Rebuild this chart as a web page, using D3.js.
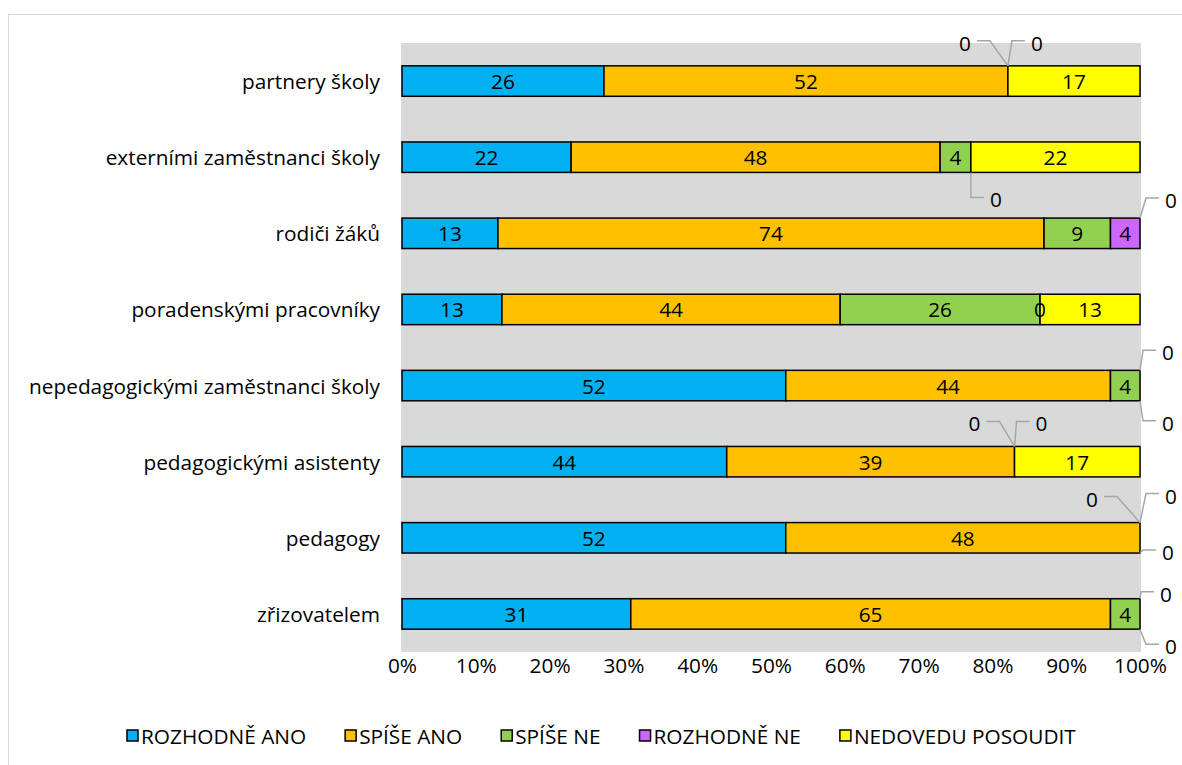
<!DOCTYPE html>
<html>
<head>
<meta charset="utf-8">
<script src="https://cdn.jsdelivr.net/npm/d3@7"></script>
<style>
  body { margin: 0; background: #fff; }
  svg { display: block; font-family: "Open Sans", Lato, sans-serif; }
</style>
</head>
<body>
<svg id="chart" width="1182" height="765"></svg>
<script>
  // categories, top to bottom
  const categories = [
    'partnery školy',
    'externími zaměstnanci školy',
    'rodiči žáků',
    'poradenskými pracovníky',
    'nepedagogickými zaměstnanci školy',
    'pedagogickými asistenty',
    'pedagogy',
    'zřizovatelem'
  ];

  const series = ['ROZHODNĚ ANO', 'SPÍŠE ANO', 'SPÍŠE NE', 'ROZHODNĚ NE', 'NEDOVEDU POSOUDIT'];
  const colors = ['#00B0F0', '#FFC000', '#92D050', '#CC66FF', '#FFFF00'];

  // values per series, in category order
  const rozhodneAno  = [26, 22, 13, 13, 52, 44, 52, 31];
  const spiseAno     = [52, 48, 74, 44, 44, 39, 48, 65];
  const spiseNe      = [ 0,  4,  9, 26,  4,  0,  0,  4];
  const rozhodneNe   = [ 0,  0,  4,  0,  0,  0,  0,  0];
  const nedovedu     = [17, 22,  0, 13,  0, 17,  0,  0];

  const tickLabels = ['0%', '10%', '20%', '30%', '40%', '50%', '60%', '70%', '80%', '90%', '100%'];

  // where the zero labels are pushed out to (offset from the bar edge), with leader lines
  const zeroLabelPlacement = [
    { cat: 0, s: 2, side: 'top',    dx: -43, dy: -23 },
    { cat: 0, s: 3, side: 'top',    dx:  29, dy: -23 },
    { cat: 1, s: 3, side: 'bottom', dx:  25, dy:  27 },
    { cat: 2, s: 4, side: 'top',    dx:  31, dy: -18 },
    { cat: 4, s: 3, side: 'top',    dx:  28, dy: -18 },
    { cat: 4, s: 4, side: 'bottom', dx:  28, dy:  22 },
    { cat: 5, s: 2, side: 'top',    dx: -40, dy: -23 },
    { cat: 5, s: 3, side: 'top',    dx:  27, dy: -23 },
    { cat: 6, s: 2, side: 'top',    dx: -48, dy: -24 },
    { cat: 6, s: 3, side: 'top',    dx:  31, dy: -27 },
    { cat: 6, s: 4, side: 'bottom', dx:  28, dy:  -1 },
    { cat: 7, s: 3, side: 'top',    dx:  26, dy:  -5 },
    { cat: 7, s: 4, side: 'bottom', dx:  31, dy:  17 }
  ];

  const values = [rozhodneAno, spiseAno, spiseNe, rozhodneNe, nedovedu];

  let table = categories.map(function (c, i) {
    let row = { cat: c };
    series.forEach(function (s, j) { row[s] = values[j][i]; });
    return row;
  });

  const stacked = d3.stack().keys(series).offset(d3.stackOffsetExpand)(table);

  const svg = d3.select('#chart');
  const FONT = 20.8;

  // chart frame
  svg.append('rect')
    .attr('x', 8.5).attr('y', 14.5)
    .attr('width', 1300).attr('height', 900)
    .attr('fill', 'none').attr('stroke', '#D9D9D9').attr('stroke-width', 1);

  const x = d3.scaleLinear().domain([0, 1]).range([402, 1140]);
  const y = d3.scaleBand().domain(categories).range([43, 652]).paddingInner(0.6).paddingOuter(0.3);

  // plot area
  svg.append('rect')
    .attr('x', x(0) - 1).attr('y', 43)
    .attr('width', x(1) - x(0) + 2).attr('height', 609)
    .attr('fill', '#D9D9D9');

  // bars
  let layer = svg.selectAll('g.layer')
    .data(stacked)
    .join('g')
    .attr('class', 'layer')
    .attr('fill', function (d, i) { return colors[i]; });

  layer.selectAll('rect')
    .data(function (d) { return d; })
    .join('rect')
    .attr('x', function (d) { return x(d[0]); })
    .attr('y', function (d) { return y(d.data.cat); })
    .attr('width', function (d) { return x(d[1]) - x(d[0]); })
    .attr('height', y.bandwidth())
    .attr('stroke', '#000')
    .attr('stroke-width', 1.5);

  // data labels
  let labels = svg.append('g').attr('font-size', FONT).attr('fill', '#000');
  stacked.forEach(function (layerData, si) {
    layerData.forEach(function (d, ci) {
      let v = values[si][ci];
      let place = zeroLabelPlacement.find(function (p) { return p.cat === ci && p.s === si; });
      let ax = x(d[0]);
      if (v === 0 && place) {
        let ay = place.side === 'top' ? y(d.data.cat) : y(d.data.cat) + y.bandwidth();
        let lx = ax + place.dx;
        let ly = ay + place.dy;
        let dir = place.dx > 0 ? -1 : 1;
        let lineY = ly - 2;
        svg.append('path')
          .attr('d', d3.line()([[ax, ay], [lx + dir * 25, lineY], [lx + dir * 12, lineY]]))
          .attr('fill', 'none')
          .attr('stroke', '#A6A6A6')
          .attr('stroke-width', 1.5);
        labels.append('text')
          .attr('x', lx).attr('y', ly)
          .attr('text-anchor', 'middle')
          .attr('dominant-baseline', 'central')
          .text(v);
        return;
      }
      if (v === 0 && !(si === 3 && ci === 3)) return;
      labels.append('text')
        .attr('x', (x(d[0]) + x(d[1])) / 2)
        .attr('y', y(d.data.cat) + y.bandwidth() / 2)
        .attr('text-anchor', 'middle')
        .attr('dominant-baseline', 'central')
        .text(v);
    });
  });

  // category axis
  svg.append('g')
    .attr('font-size', FONT)
    .selectAll('text')
    .data(categories)
    .join('text')
    .attr('x', 380)
    .attr('y', function (d) { return y(d) + y.bandwidth() / 2; })
    .attr('text-anchor', 'end')
    .attr('dominant-baseline', 'central')
    .attr('fill', '#000')
    .text(function (d) { return d; });

  // value axis
  const xAxis = d3.axisBottom(x)
    .tickValues(d3.range(tickLabels.length).map(function (i) { return i / 10; }))
    .tickFormat(function (d, i) { return tickLabels[i]; })
    .tickSize(0)
    .tickPadding(0);

  let gx = svg.append('g').attr('transform', 'translate(0,665)').call(xAxis);
  gx.select('.domain').remove();
  gx.selectAll('text')
    .attr('dy', null)
    .attr('dominant-baseline', 'central')
    .attr('font-size', FONT)
    .attr('font-family', '"Open Sans", Lato, sans-serif')
    .attr('fill', '#000');

  // legend
  let legend = svg.append('g').attr('font-size', FONT);
  let lx = 127;
  series.forEach(function (s, i) {
    let g = legend.append('g').attr('transform', 'translate(' + lx + ',736)');
    g.append('rect')
      .attr('x', 0).attr('y', -6)
      .attr('width', 11).attr('height', 11)
      .attr('fill', colors[i])
      .attr('stroke', '#000')
      .attr('stroke-width', 1.5);
    let t = g.append('text')
      .attr('x', 14).attr('y', 0)
      .attr('dominant-baseline', 'central')
      .attr('fill', '#000')
      .text(s);
    lx += 14 + t.node().getComputedTextLength() + 39;
  });
</script>
</body>
</html>
